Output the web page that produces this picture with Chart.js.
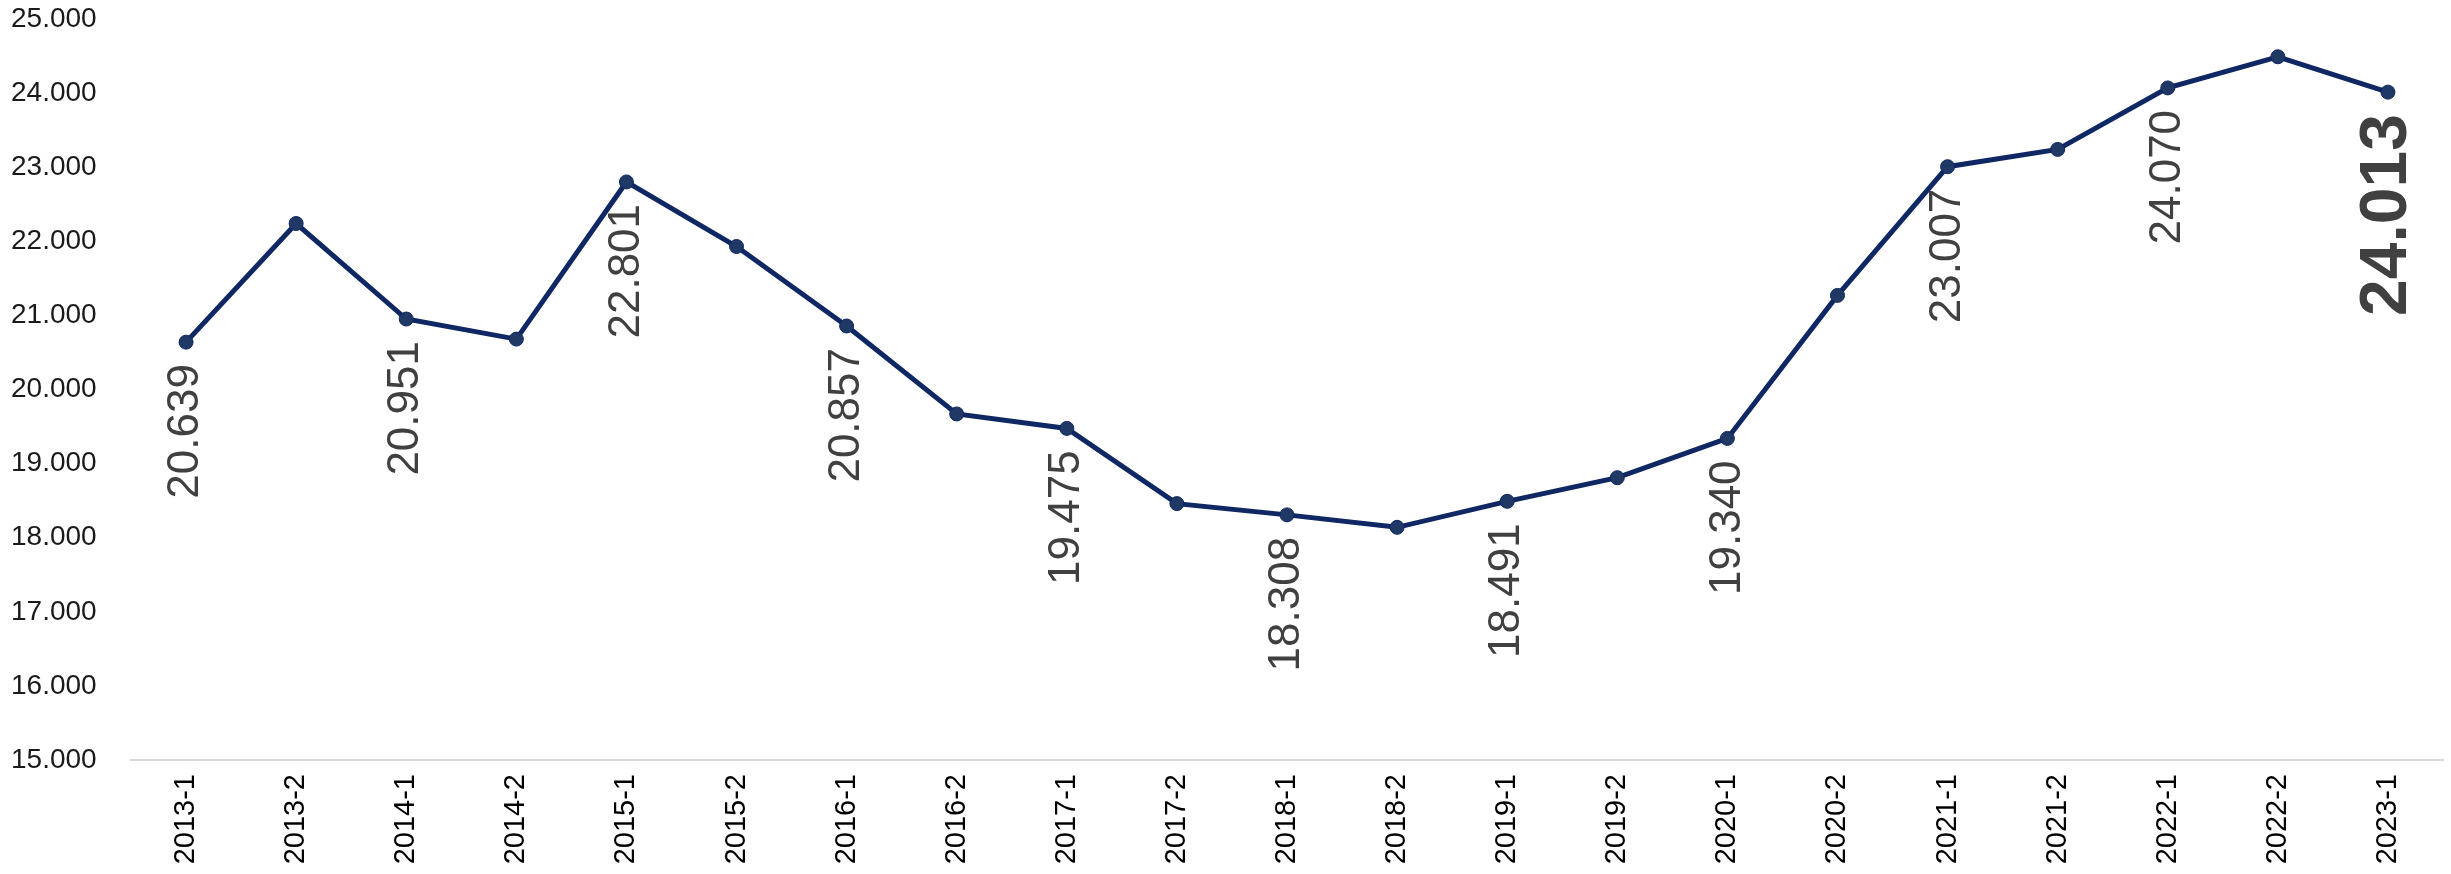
<!DOCTYPE html>
<html>
<head>
<meta charset="utf-8">
<script src="https://cdn.jsdelivr.net/npm/chart.js"></script>
<style>
    html, body { margin: 0; padding: 0; background: #ffffff; }
    #wrap { width: 2451px; height: 874px; }
</style>
</head>
<body>
<div id="wrap"><canvas id="chart" width="2451" height="874"></canvas></div>
<script>
// dönemler
const periods = ['2013-1', '2013-2', '2014-1', '2014-2', '2015-1', '2015-2', '2016-1', '2016-2',
    '2017-1', '2017-2', '2018-1', '2018-2', '2019-1', '2019-2', '2020-1', '2020-2',
    '2021-1', '2021-2', '2022-1', '2022-2', '2023-1'];

// değerler (bin)
const values = [20.639, 22.24, 20.951, 20.68, 22.801, 21.93, 20.857, 19.67,
    19.475, 18.46, 18.308, 18.14, 18.491, 18.81, 19.340, 21.27,
    23.007, 23.24, 24.070, 24.49, 24.013];

// etiket gösterilecek noktalar
const labelIdx = [0, 2, 4, 6, 8, 10, 12, 14, 16, 18, 20];

const yTicks = [15, 16, 17, 18, 19, 20, 21, 22, 23, 24, 25];

const FONT = '"Liberation Sans", Arial, sans-serif';

// dikey veri etiketleri
const valueLabels = {
    id: 'valueLabels',
    afterDatasetsDraw(chart) {
        const ctx = chart.ctx;
        const meta = chart.getDatasetMeta(0);
        const last = values.length - 1;
        labelIdx.forEach(i => {
            const pt = meta.data[i];
            ctx.save();
            ctx.translate(pt.x, pt.y + 22);
            ctx.rotate(-Math.PI / 2);
            ctx.textAlign = 'right';
            ctx.textBaseline = 'middle';
            ctx.fillStyle = '#404040';
            ctx.font = i === last ? 'bold 66px ' + FONT : '44px ' + FONT;
            ctx.fillText(values[i].toFixed(3), 0, 0);
            ctx.restore();
        });
    }
};

new Chart(document.getElementById('chart'), {
    type: 'line',
    data: {
        labels: periods,
        datasets: [{
            data: values,
            borderColor: '#0f2763',
            borderWidth: 5,
            pointRadius: 7,
            pointBackgroundColor: '#1f3864',
            pointBorderColor: '#0f2763',
            pointBorderWidth: 1,
            tension: 0,
            clip: false
        }]
    },
    options: {
        responsive: false,
        animation: false,
        layout: { padding: { left: 11, right: 6, top: 19, bottom: 0 } },
        plugins: {
            legend: { display: false },
            tooltip: { enabled: false }
        },
        scales: {
            x: {
                offset: true,
                grid: { display: false, drawTicks: false },
                border: { display: true, color: '#d9d9d9', width: 2 },
                ticks: {
                    minRotation: 90,
                    maxRotation: 90,
                    autoSkip: false,
                    padding: 14,
                    color: '#000000',
                    font: { family: FONT, size: 29 }
                },
                afterFit(scale) { scale.height = 114; }
            },
            y: {
                min: 15,
                max: 25,
                afterBuildTicks(scale) { scale.ticks = yTicks.map(v => ({ value: v })); },
                grid: { display: false, drawTicks: false },
                border: { display: false },
                ticks: {
                    crossAlign: 'far',
                    padding: 10,
                    color: '#1a1a1a',
                    font: { family: FONT, size: 28 },
                    callback: v => Number(v).toFixed(3)
                },
                afterFit(scale) {
                    scale.width = 120;
                    scale.paddingTop = 0;
                    scale.paddingBottom = 0;
                }
            }
        }
    },
    plugins: [valueLabels]
});
</script>
</body>
</html>
